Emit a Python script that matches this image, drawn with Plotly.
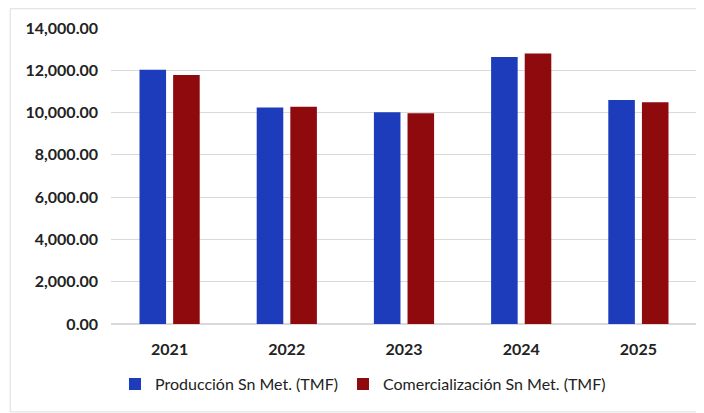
import plotly.graph_objects as go

years = ["2021", "2022", "2023", "2024", "2025"]
produccion = [12030, 10240, 10020, 12630, 10590]
comercializacion = [11780, 10280, 9970, 12790, 10490]
series_names = ["Producción Sn Met. (TMF)", "Comercialización Sn Met. (TMF)"]

fig = go.Figure()
fig.add_trace(go.Bar(x=years, y=produccion, name=series_names[0],
                     marker=dict(color="#1c3cbc", line=dict(width=0))))
fig.add_trace(go.Bar(x=years, y=comercializacion, name=series_names[1],
                     marker=dict(color="#8e0a0c", line=dict(width=0))))

# page body has an 8px margin, so the figure is sized to fit the 704x413 window
fig.update_layout(
    width=696, height=405,
    margin=dict(l=103, r=7, t=20, b=89, autoexpand=False),
    paper_bgcolor="white", plot_bgcolor="white",
    barmode="group", bargap=0.426, bargroupgap=0.21,
    font=dict(family="Lato", size=16, color="#222222"),
    showlegend=True,
    legend=dict(orientation="h", x=0.43, xanchor="center", y=-0.203, yanchor="middle",
                font=dict(size=16, color="#222222"), itemwidth=30,
                traceorder="normal"),
    shapes=[dict(type="rect", xref="paper", yref="paper",
                 x0=-0.172, x1=1.03, y0=-0.297, y1=1.065,
                 line=dict(color="#dddddd", width=1))],
)
fig.update_yaxes(range=[0, 14000], dtick=2000, tickformat=",.2f",
                 showgrid=True, gridcolor="#d9d9d9", gridwidth=1,
                 zeroline=True, zerolinecolor="#d9d9d9", showline=False,
                 ticks="", ticklabelstandoff=12,
                 tickfont=dict(size=16, weight="bold", color="#222222"))
fig.update_xaxes(showline=False, ticks="", ticklabelstandoff=14,
                 tickfont=dict(size=16, weight="bold", color="#222222"))

fig.write_html("out.html")
